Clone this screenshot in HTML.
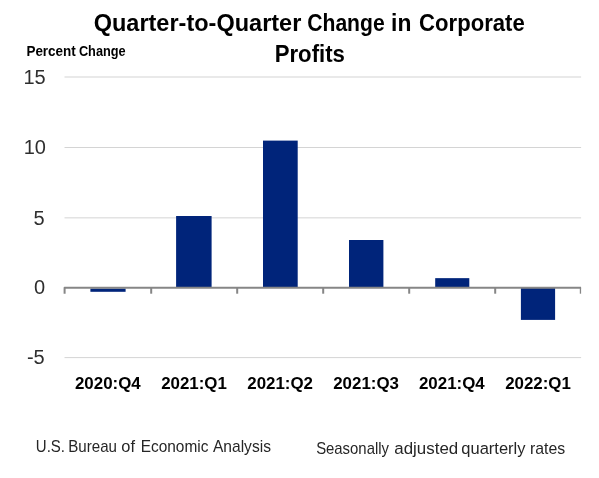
<!DOCTYPE html>
<html><head><meta charset="utf-8"><style>
html,body{margin:0;padding:0;background:#fff;}
svg{display:block;will-change:transform;font-family:"Liberation Sans",sans-serif;}
</style></head><body>
<svg width="599" height="478" viewBox="0 0 599 478">
<rect width="599" height="478" fill="#fff"/>
<rect x="64.5" y="76.50" width="516.6" height="1" fill="#D4D4D4"/>
<rect x="64.5" y="147.00" width="516.6" height="1" fill="#D4D4D4"/>
<rect x="64.5" y="217.35" width="516.6" height="1" fill="#D4D4D4"/>
<rect x="64.5" y="357.10" width="516.6" height="1" fill="#D4D4D4"/>
<rect x="90.40" y="288.50" width="35.20" height="3.30" fill="#00247A"/>
<rect x="176.10" y="216.00" width="35.50" height="72.00" fill="#00247A"/>
<rect x="263.00" y="140.60" width="34.70" height="147.40" fill="#00247A"/>
<rect x="349.00" y="240.00" width="34.40" height="48.00" fill="#00247A"/>
<rect x="435.20" y="278.15" width="34.10" height="9.85" fill="#00247A"/>
<rect x="520.90" y="288.00" width="34.20" height="31.90" fill="#00247A"/>
<path d="M64.6,293.7 V287.85 H581.1" fill="none" stroke="#868686" stroke-width="2" stroke-linejoin="round"/>
<rect x="579.8" y="287.85" width="1.3" height="5.85" fill="#868686"/>
<rect x="150.20" y="287.85" width="2" height="5.85" fill="#868686"/>
<rect x="236.20" y="287.85" width="2" height="5.85" fill="#868686"/>
<rect x="322.20" y="287.85" width="2" height="5.85" fill="#868686"/>
<rect x="408.20" y="287.85" width="2" height="5.85" fill="#868686"/>
<rect x="494.20" y="287.85" width="2" height="5.85" fill="#868686"/>
<text transform="translate(23.40,84.00) scale(1.0000,1)" font-size="20.00" font-weight="400" fill="#2e2e2e">15</text>
<text transform="translate(23.75,153.80) scale(1.0000,1)" font-size="20.00" font-weight="400" fill="#2e2e2e">10</text>
<text transform="translate(33.60,224.60) scale(1.0000,1)" font-size="20.00" font-weight="400" fill="#2e2e2e">5</text>
<text transform="translate(33.95,293.60) scale(1.0000,1)" font-size="20.00" font-weight="400" fill="#2e2e2e">0</text>
<text transform="translate(26.95,364.40) scale(1.0000,1)" font-size="20.00" font-weight="400" fill="#2e2e2e">-5</text>
<text transform="translate(74.98,389.00) scale(1.0000,1)" font-size="16.90" font-weight="700" fill="#000">2020:Q4</text>
<text transform="translate(161.17,389.00) scale(1.0000,1)" font-size="16.90" font-weight="700" fill="#000">2021:Q1</text>
<text transform="translate(247.27,389.00) scale(1.0000,1)" font-size="16.90" font-weight="700" fill="#000">2021:Q2</text>
<text transform="translate(333.23,389.00) scale(1.0000,1)" font-size="16.90" font-weight="700" fill="#000">2021:Q3</text>
<text transform="translate(418.98,389.00) scale(1.0000,1)" font-size="16.90" font-weight="700" fill="#000">2021:Q4</text>
<text transform="translate(505.17,389.00) scale(1.0000,1)" font-size="16.90" font-weight="700" fill="#000">2022:Q1</text>
<text transform="translate(93.66,30.90) scale(0.9966,1)" font-size="23.60" font-weight="700" fill="#000">Quarter-to-Quarter</text>
<text transform="translate(307.25,30.90) scale(0.8952,1)" font-size="23.60" font-weight="700" fill="#000">Change</text>
<text transform="translate(391.10,30.90) scale(0.9677,1)" font-size="23.60" font-weight="700" fill="#000">in</text>
<text transform="translate(419.12,30.90) scale(0.9366,1)" font-size="23.60" font-weight="700" fill="#000">Corporate</text>
<text transform="translate(274.70,61.70) scale(0.9396,1)" font-size="23.60" font-weight="700" fill="#000">Profits</text>
<text transform="translate(26.39,55.60) scale(0.9568,1)" font-size="14.10" font-weight="700" fill="#000">Percent</text>
<text transform="translate(78.89,55.60) scale(0.9042,1)" font-size="14.10" font-weight="700" fill="#000">Change</text>
<text transform="translate(35.84,452.20) scale(0.9330,1)" font-size="16.10" font-weight="400" fill="#262626">U.S.</text>
<text transform="translate(68.25,452.20) scale(0.9393,1)" font-size="16.10" font-weight="400" fill="#262626">Bureau</text>
<text transform="translate(121.30,452.20) scale(1.0189,1)" font-size="16.10" font-weight="400" fill="#262626">of</text>
<text transform="translate(140.73,452.20) scale(0.9578,1)" font-size="16.10" font-weight="400" fill="#262626">Economic</text>
<text transform="translate(212.96,452.20) scale(0.9675,1)" font-size="16.10" font-weight="400" fill="#262626">Analysis</text>
<text transform="translate(316.13,454.10) scale(0.9256,1)" font-size="16.10" font-weight="400" fill="#262626">Seasonally</text>
<text transform="translate(394.28,454.10) scale(1.0513,1)" font-size="16.10" font-weight="400" fill="#262626">adjusted</text>
<text transform="translate(461.30,454.10) scale(1.0258,1)" font-size="16.10" font-weight="400" fill="#262626">quarterly</text>
<text transform="translate(529.93,454.10) scale(0.9844,1)" font-size="16.10" font-weight="400" fill="#262626">rates</text>
</svg></body></html>
